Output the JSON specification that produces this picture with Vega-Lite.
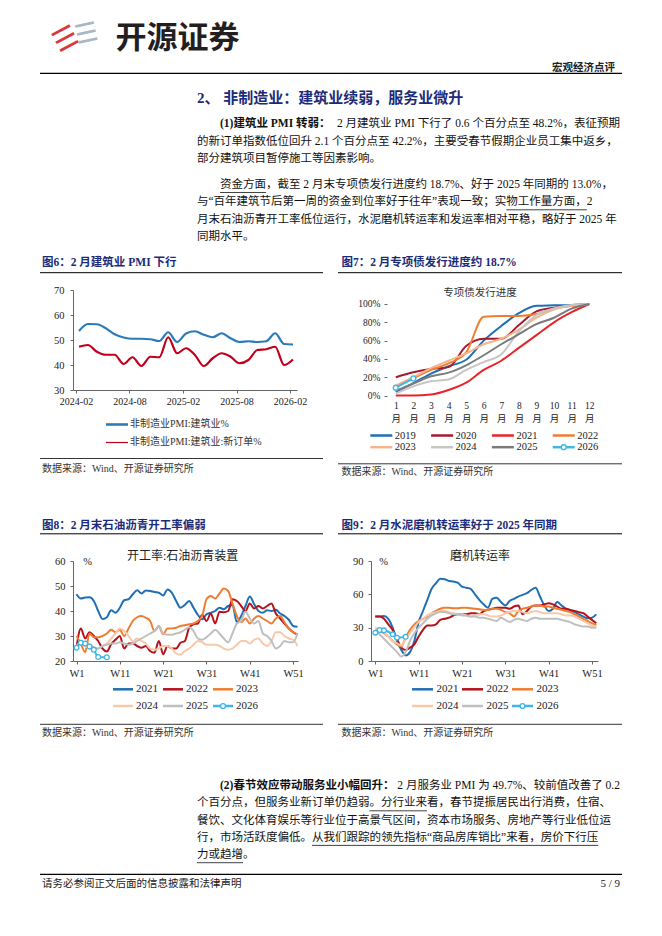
{
"$schema":"https://vega.github.io/schema/vega-lite/v6.json",
"background":"white",
"padding":0,
"columns":4,
"align":"each",
"bounds":"flush",
"spacing":0,
"resolve":{"scale":{"color":"independent"}},
"config":{"view":{"stroke":null},"axis":{"labelFlush":false,"labelOverlap":false}},
"concat":[
{"width":73,"height":1,"data":{"values":[]},"mark":"text"},
{"width":225,"height":290,"resolve":{"scale":{"x":"independent","y":"independent"}},"layer":[
 {"data":{"values":[{"t":"☰"}]},"mark":{"type":"text","font":"DejaVu Sans","fontSize":28,"angle":-28,"color":"#d8393b","align":"center","baseline":"middle"},"encoding":{"x":{"datum":0,"type":"quantitative","scale":{"domain":[7,232],"nice":false,"zero":false},"axis":null},"y":{"datum":0,"type":"quantitative","scale":{"domain":[-40,250],"reverse":true,"nice":false,"zero":false},"axis":null},"text":{"field":"t"}}},
 {"data":{"values":[{"t":"☰"}]},"mark":{"type":"text","font":"DejaVu Sans","fontSize":26,"angle":-12,"color":"#a9b6c5","align":"center","baseline":"middle"},"encoding":{"x":{"datum":0,"type":"quantitative","scale":{"domain":[-13.5,211.5],"nice":false,"zero":false},"axis":null},"y":{"datum":0,"type":"quantitative","scale":{"domain":[-34,256],"reverse":true,"nice":false,"zero":false},"axis":null},"text":{"field":"t"}}},
 {"data":{"values":[{"t":"开源证券"}]},"mark":{"type":"text","font":"Noto Sans CJK SC","fontSize":31,"fontWeight":"bold","color":"#231f20","align":"center","baseline":"middle"},"encoding":{"x":{"datum":0,"type":"quantitative","scale":{"domain":[-104.5,120.5],"nice":false,"zero":false},"axis":null},"y":{"datum":0,"type":"quantitative","scale":{"domain":[-38.5,251.5],"reverse":true,"nice":false,"zero":false},"axis":null},"text":{"field":"t"}}},
 {"data":{"values":[{"t":"宏观经济点评"}]},"mark":{"type":"text","font":"Noto Sans CJK SC","fontSize":10.5,"fontWeight":"bold","color":"#222","align":"right","baseline":"middle"},"encoding":{"x":{"datum":0,"type":"quantitative","scale":{"domain":[-542,-317],"nice":false,"zero":false},"axis":null},"y":{"datum":0,"type":"quantitative","scale":{"domain":[-68.3,221.7],"reverse":true,"nice":false,"zero":false},"axis":null},"text":{"field":"t"}}},
 {"data":{"values":[{}]},"mark":{"type":"rule","stroke":"#000","strokeWidth":1.3},"encoding":{"x":{"datum":0,"type":"quantitative","scale":{"domain":[33,258],"nice":false,"zero":false},"axis":null},"x2":{"datum":582},"y":{"datum":0,"type":"quantitative","scale":{"domain":[-73.3,216.7],"reverse":true,"nice":false,"zero":false},"axis":null}}},
 {"data":{"values":[{"t":"2、 非制造业：建筑业续弱，服务业微升"}]},"mark":{"type":"text","font":"Liberation Serif, Noto Sans CJK SC","fontSize":15,"fontWeight":"bold","color":"#1c2b78","align":"left","baseline":"middle"},"encoding":{"x":{"datum":0,"type":"quantitative","scale":{"domain":[-124,101],"nice":false,"zero":false},"axis":null},"y":{"datum":0,"type":"quantitative","scale":{"domain":[-98.3,191.7],"reverse":true,"nice":false,"zero":false},"axis":null},"text":{"field":"t"}}},
 {"encoding":{"y":{"field":"line","type":"quantitative","scale":{"domain":[-7.185,9.578],"reverse":true,"nice":false,"zero":false},"axis":null}},"layer":[
   {"data":{"values":[{"line":1,"ind":0,"t":"的新订单指数低位回升 2.1 个百分点至 42.2%，主要受春节假期企业员工集中返乡，"},{"line":2,"ind":0,"t":"部分建筑项目暂停施工等因素影响。"}]},"mark":{"type":"text","align":"left","baseline":"middle","font":"Liberation Serif, Noto Sans CJK SC","fontSize":11.5,"color":"#111"},"encoding":{"x":{"field":"ind","type":"quantitative","scale":{"domain":[-10.7826,8.7826],"nice":false,"zero":false},"axis":null},"text":{"field":"t"}}},
   {"data":{"values":[{"line":0,"ind":2,"t":"(1)建筑业 PMI 转弱："}]},"mark":{"type":"text","align":"left","baseline":"middle","font":"Liberation Serif, Noto Sans CJK SC","fontSize":11.5,"fontWeight":"bold","color":"#111"},"encoding":{"x":{"field":"ind","type":"quantitative","scale":{"domain":[-10.7826,8.7826],"nice":false,"zero":false},"axis":null},"text":{"field":"t"}}},
   {"data":{"values":[{"line":0,"t":"2 月建筑业 PMI 下行了 0.6 个百分点至 48.2%，表征预期"}]},"mark":{"type":"text","align":"right","baseline":"middle","font":"Liberation Serif, Noto Sans CJK SC","fontSize":11.5,"color":"#111"},"encoding":{"x":{"datum":36.7826,"type":"quantitative","scale":{"domain":[-10.7826,8.7826],"nice":false,"zero":false},"axis":null},"text":{"field":"t"}}}
 ]},
 {"encoding":{"y":{"field":"line","type":"quantitative","scale":{"domain":[-10.6936,6.0694],"reverse":true,"nice":false,"zero":false},"axis":null}},"layer":[
   {"data":{"values":[{"line":0,"ind":2,"t":"资金方面，截至 2 月末专项债发行进度约 18.7%、好于 2025 年同期的 13.0%，"},{"line":1,"ind":0,"t":"与“百年建筑节后第一周的资金到位率好于往年”表现一致；实物工作量方面，2"},{"line":2,"ind":0,"t":"月末石油沥青开工率低位运行，水泥磨机转运率和发运率相对平稳，略好于 2025 年"},{"line":3,"ind":0,"t":"同期水平。"}]},"mark":{"type":"text","align":"left","baseline":"middle","font":"Liberation Serif, Noto Sans CJK SC","fontSize":11.5,"color":"#111"},"encoding":{"x":{"field":"ind","type":"quantitative","scale":{"domain":[-10.7826,8.7826],"nice":false,"zero":false},"axis":null},"text":{"field":"t"}}},
   {"data":{"values":[{"line":0,"from":2,"to":6},{"line":1,"from":26.9,"to":33.9}]},"mark":{"type":"rule","stroke":"#111","strokeWidth":0.8,"yOffset":7.5},"encoding":{"x":{"field":"from","type":"quantitative","scale":{"domain":[-10.7826,8.7826],"nice":false,"zero":false},"axis":null},"x2":{"field":"to"}}}
 ]},
 {"data":{"values":[{"t":"图6：2 月建筑业 PMI 下行"}]},"mark":{"type":"text","align":"left","baseline":"middle","font":"Liberation Serif, Noto Sans CJK SC","fontSize":11.5,"fontWeight":"bold","color":"#1c2b78"},"encoding":{"x":{"datum":0,"type":"quantitative","scale":{"domain":[31,256],"nice":false,"zero":false},"axis":null},"y":{"datum":0,"type":"quantitative","scale":{"domain":[-263,27],"reverse":true,"nice":false,"zero":false},"axis":null},"text":{"field":"t"}}},
 {"data":{"values":[{}]},"mark":{"type":"rule","stroke":"#000","strokeWidth":1},"encoding":{"x":{"datum":0,"type":"quantitative","scale":{"domain":[33,258],"nice":false,"zero":false},"axis":null},"x2":{"datum":283},"y":{"datum":0,"type":"quantitative","scale":{"domain":[-272.7,17.3],"reverse":true,"nice":false,"zero":false},"axis":null}}},
 {"data":{"values":[{"t":"图7：2 月专项债发行进度约 18.7%"}]},"mark":{"type":"text","align":"left","baseline":"middle","font":"Liberation Serif, Noto Sans CJK SC","fontSize":11.5,"fontWeight":"bold","color":"#1c2b78"},"encoding":{"x":{"datum":0,"type":"quantitative","scale":{"domain":[-268.5,-43.5],"nice":false,"zero":false},"axis":null},"y":{"datum":0,"type":"quantitative","scale":{"domain":[-263,27],"reverse":true,"nice":false,"zero":false},"axis":null},"text":{"field":"t"}}},
 {"data":{"values":[{}]},"mark":{"type":"rule","stroke":"#000","strokeWidth":1},"encoding":{"x":{"datum":0,"type":"quantitative","scale":{"domain":[-265,-40],"nice":false,"zero":false},"axis":null},"x2":{"datum":284},"y":{"datum":0,"type":"quantitative","scale":{"domain":[-272.7,17.3],"reverse":true,"nice":false,"zero":false},"axis":null}}},
 {"data":{"values":[{"t":"专项债发行进度"}]},"mark":{"type":"text","align":"center","baseline":"middle","font":"Noto Sans CJK SC","fontSize":10.5,"color":"#333"},"encoding":{"x":{"datum":0,"type":"quantitative","scale":{"domain":[-407,-182],"nice":false,"zero":false},"axis":null},"y":{"datum":0,"type":"quantitative","scale":{"domain":[-293.3,-3.3],"reverse":true,"nice":false,"zero":false},"axis":null},"text":{"field":"t"}}}
]},
{"width":73,"height":1,"data":{"values":[]},"mark":"text"},
{"width":1,"height":1,"data":{"values":[]},"mark":"text"},

{"width":73,"height":1,"data":{"values":[]},"mark":"text"},
{"width":224,"height":100,
 "data":{"values":[
{"m":"2024-02","s":"非制造业PMI:建筑业%","v":53.6},{"m":"2024-03","s":"非制造业PMI:建筑业%","v":56.4},{"m":"2024-04","s":"非制造业PMI:建筑业%","v":56.3},{"m":"2024-05","s":"非制造业PMI:建筑业%","v":54.7},{"m":"2024-06","s":"非制造业PMI:建筑业%","v":52.3},{"m":"2024-07","s":"非制造业PMI:建筑业%","v":51.0},{"m":"2024-08","s":"非制造业PMI:建筑业%","v":50.5},{"m":"2024-09","s":"非制造业PMI:建筑业%","v":50.5},{"m":"2024-10","s":"非制造业PMI:建筑业%","v":50.3},{"m":"2024-11","s":"非制造业PMI:建筑业%","v":49.6},{"m":"2024-12","s":"非制造业PMI:建筑业%","v":53.1},{"m":"2025-01","s":"非制造业PMI:建筑业%","v":49.2},{"m":"2025-02","s":"非制造业PMI:建筑业%","v":52.6},{"m":"2025-03","s":"非制造业PMI:建筑业%","v":53.5},{"m":"2025-04","s":"非制造业PMI:建筑业%","v":52.1},{"m":"2025-05","s":"非制造业PMI:建筑业%","v":51.1},{"m":"2025-06","s":"非制造业PMI:建筑业%","v":52.7},{"m":"2025-07","s":"非制造业PMI:建筑业%","v":50.7},{"m":"2025-08","s":"非制造业PMI:建筑业%","v":49.2},{"m":"2025-09","s":"非制造业PMI:建筑业%","v":49.5},{"m":"2025-10","s":"非制造业PMI:建筑业%","v":49.2},{"m":"2025-11","s":"非制造业PMI:建筑业%","v":49.5},{"m":"2025-12","s":"非制造业PMI:建筑业%","v":52.7},{"m":"2026-01","s":"非制造业PMI:建筑业%","v":48.4},{"m":"2026-02","s":"非制造业PMI:建筑业%","v":48.2},
{"m":"2024-02","s":"非制造业PMI:建筑业:新订单%","v":47.3},{"m":"2024-03","s":"非制造业PMI:建筑业:新订单%","v":48.0},{"m":"2024-04","s":"非制造业PMI:建筑业:新订单%","v":45.3},{"m":"2024-05","s":"非制造业PMI:建筑业:新订单%","v":44.1},{"m":"2024-06","s":"非制造业PMI:建筑业:新订单%","v":44.1},{"m":"2024-07","s":"非制造业PMI:建筑业:新订单%","v":40.4},{"m":"2024-08","s":"非制造业PMI:建筑业:新订单%","v":43.1},{"m":"2024-09","s":"非制造业PMI:建筑业:新订单%","v":39.6},{"m":"2024-10","s":"非制造业PMI:建筑业:新订单%","v":43.3},{"m":"2024-11","s":"非制造业PMI:建筑业:新订单%","v":43.1},{"m":"2024-12","s":"非制造业PMI:建筑业:新订单%","v":51.1},{"m":"2025-01","s":"非制造业PMI:建筑业:新订单%","v":44.7},{"m":"2025-02","s":"非制造业PMI:建筑业:新订单%","v":46.7},{"m":"2025-03","s":"非制造业PMI:建筑业:新订单%","v":44.0},{"m":"2025-04","s":"非制造业PMI:建筑业:新订单%","v":39.6},{"m":"2025-05","s":"非制造业PMI:建筑业:新订单%","v":42.7},{"m":"2025-06","s":"非制造业PMI:建筑业:新订单%","v":44.7},{"m":"2025-07","s":"非制造业PMI:建筑业:新订单%","v":43.3},{"m":"2025-08","s":"非制造业PMI:建筑业:新订单%","v":40.7},{"m":"2025-09","s":"非制造业PMI:建筑业:新订单%","v":42.0},{"m":"2025-10","s":"非制造业PMI:建筑业:新订单%","v":46.0},{"m":"2025-11","s":"非制造业PMI:建筑业:新订单%","v":46.3},{"m":"2025-12","s":"非制造业PMI:建筑业:新订单%","v":47.3},{"m":"2026-01","s":"非制造业PMI:建筑业:新订单%","v":40.0},{"m":"2026-02","s":"非制造业PMI:建筑业:新订单%","v":42.2}
 ]},
 "mark":{"type":"line","interpolate":"monotone","strokeWidth":2.2},
 "encoding":{
  "x":{"field":"m","type":"ordinal","scale":{"type":"point","padding":0.5607,"align":0.6},"axis":{"values":["2024-02","2024-08","2025-02","2025-08","2026-02"],"title":null,"labelAngle":0,"labelFont":"Liberation Serif","labelFontSize":10,"labelColor":"#222","domainColor":"#666","tickColor":"#666","tickSize":3,"tickOffset":-3,"labelPadding":3}},
  "y":{"field":"v","type":"quantitative","scale":{"domain":[30,70],"nice":false,"zero":false},"axis":{"values":[30,40,50,60,70],"title":null,"grid":false,"labelFont":"Liberation Serif","labelFontSize":10.5,"labelColor":"#222","domainColor":"#666","tickColor":"#666","tickSize":3,"labelPadding":6}},
  "color":{"field":"s","type":"nominal","scale":{"domain":["非制造业PMI:建筑业%","非制造业PMI:建筑业:新订单%"],"range":["#2b7bba","#c0001c"]},"legend":null}
 }
},
{"width":73,"height":1,"data":{"values":[]},"mark":"text"},
{"width":227,"height":105.5,
 "data":{"values":[
{"yr":"2019","m":1,"v":0.04},{"yr":"2019","m":2,"v":0.135},{"yr":"2019","m":3,"v":0.24},{"yr":"2019","m":4,"v":0.32},{"yr":"2019","m":5,"v":0.39},{"yr":"2019","m":6,"v":0.6},{"yr":"2019","m":7,"v":0.76},{"yr":"2019","m":8,"v":0.9},{"yr":"2019","m":9,"v":0.98},{"yr":"2019","m":10,"v":0.985},{"yr":"2019","m":11,"v":0.99},{"yr":"2019","m":12,"v":1.0},
{"yr":"2020","m":1,"v":0.2},{"yr":"2020","m":2,"v":0.255},{"yr":"2020","m":3,"v":0.29},{"yr":"2020","m":4,"v":0.31},{"yr":"2020","m":5,"v":0.54},{"yr":"2020","m":6,"v":0.62},{"yr":"2020","m":7,"v":0.62},{"yr":"2020","m":8,"v":0.77},{"yr":"2020","m":9,"v":0.92},{"yr":"2020","m":10,"v":0.96},{"yr":"2020","m":11,"v":0.98},{"yr":"2020","m":12,"v":1.0},
{"yr":"2021","m":1,"v":0.0},{"yr":"2021","m":2,"v":0.0},{"yr":"2021","m":3,"v":0.01},{"yr":"2021","m":4,"v":0.06},{"yr":"2021","m":5,"v":0.14},{"yr":"2021","m":6,"v":0.28},{"yr":"2021","m":7,"v":0.38},{"yr":"2021","m":8,"v":0.52},{"yr":"2021","m":9,"v":0.66},{"yr":"2021","m":10,"v":0.8},{"yr":"2021","m":11,"v":0.91},{"yr":"2021","m":12,"v":1.0},
{"yr":"2022","m":1,"v":0.1},{"yr":"2022","m":2,"v":0.19},{"yr":"2022","m":3,"v":0.28},{"yr":"2022","m":4,"v":0.35},{"yr":"2022","m":5,"v":0.47},{"yr":"2022","m":6,"v":0.86},{"yr":"2022","m":7,"v":0.87},{"yr":"2022","m":8,"v":0.87},{"yr":"2022","m":9,"v":0.89},{"yr":"2022","m":10,"v":0.95},{"yr":"2022","m":11,"v":0.98},{"yr":"2022","m":12,"v":1.0},
{"yr":"2023","m":1,"v":0.11},{"yr":"2023","m":2,"v":0.2},{"yr":"2023","m":3,"v":0.3},{"yr":"2023","m":4,"v":0.38},{"yr":"2023","m":5,"v":0.46},{"yr":"2023","m":6,"v":0.56},{"yr":"2023","m":7,"v":0.62},{"yr":"2023","m":8,"v":0.72},{"yr":"2023","m":9,"v":0.85},{"yr":"2023","m":10,"v":0.94},{"yr":"2023","m":11,"v":0.98},{"yr":"2023","m":12,"v":1.0},
{"yr":"2024","m":1,"v":0.02},{"yr":"2024","m":2,"v":0.1},{"yr":"2024","m":3,"v":0.155},{"yr":"2024","m":4,"v":0.175},{"yr":"2024","m":5,"v":0.28},{"yr":"2024","m":6,"v":0.365},{"yr":"2024","m":7,"v":0.45},{"yr":"2024","m":8,"v":0.7},{"yr":"2024","m":9,"v":0.88},{"yr":"2024","m":10,"v":0.95},{"yr":"2024","m":11,"v":0.99},{"yr":"2024","m":12,"v":1.0},
{"yr":"2025","m":1,"v":0.05},{"yr":"2025","m":2,"v":0.13},{"yr":"2025","m":3,"v":0.21},{"yr":"2025","m":4,"v":0.25},{"yr":"2025","m":5,"v":0.33},{"yr":"2025","m":6,"v":0.44},{"yr":"2025","m":7,"v":0.56},{"yr":"2025","m":8,"v":0.67},{"yr":"2025","m":9,"v":0.78},{"yr":"2025","m":10,"v":0.85},{"yr":"2025","m":11,"v":0.95},{"yr":"2025","m":12,"v":1.0},
{"yr":"2026","m":1,"v":0.085},{"yr":"2026","m":2,"v":0.187}
 ]},
 "encoding":{
  "x":{"field":"m","type":"quantitative","scale":{"domain":[-0.41,12.5],"nice":false,"zero":false},"axis":{"values":[1,2,3,4,5,6,7,8,9,10,11,12],"domain":false,"ticks":false,"grid":false,"title":null,"labelExpr":"[datum.label, '月']","labelFont":"Liberation Serif, Noto Sans CJK SC","labelFontSize":9.5,"labelLineHeight":12.5,"labelBaseline":"top","labelColor":"#222","labelPadding":5}},
  "y":{"field":"v","type":"quantitative","scale":{"domain":[0,1.153],"nice":false,"zero":false},"axis":{"values":[0,0.2,0.4,0.6,0.8,1],"format":".0%","domain":false,"offset":-16,"title":null,"grid":false,"labelFont":"Liberation Serif","labelFontSize":9.5,"labelColor":"#222","tickColor":"#666","tickSize":3,"labelPadding":4}}
 },
 "layer":[
  {"mark":{"type":"line","interpolate":"monotone","strokeWidth":2},
   "encoding":{"color":{"field":"yr","type":"nominal","scale":{"domain":["2019","2020","2021","2022","2023","2024","2025","2026"],"range":["#1f6fb5","#a8192e","#e8242a","#ee7d32","#f6b48a","#c6c6c6","#7b7b7b","#3fb6e6"]},"legend":null}}},
  {"transform":[{"filter":"datum.yr == '2026'"}],"mark":{"type":"point","filled":true,"fill":"white","stroke":"#3fb6e6","strokeWidth":1.3,"size":24,"opacity":1}},
  {"data":{"values":[{}]},"mark":{"type":"rule","stroke":"#666","strokeWidth":1},"encoding":{
    "x":{"datum":0.5,"type":"quantitative","scale":{"domain":[-0.41,12.5],"nice":false,"zero":false},"axis":{"values":[1,2,3,4,5,6,7,8,9,10,11,12],"domain":false,"ticks":false,"grid":false,"title":null,"labelExpr":"[datum.label, '月']","labelFont":"Liberation Serif, Noto Sans CJK SC","labelFontSize":9.5,"labelLineHeight":12.5,"labelBaseline":"top","labelColor":"#222","labelPadding":5}},
    "y":{"datum":0,"type":"quantitative","scale":{"domain":[0,1.153],"nice":false,"zero":false},"axis":{"values":[0,0.2,0.4,0.6,0.8,1],"format":".0%","domain":false,"offset":-16,"title":null,"grid":false,"labelFont":"Liberation Serif","labelFontSize":9.5,"labelColor":"#222","tickColor":"#666","tickSize":3,"labelPadding":4}},
    "y2":{"datum":1}}},
  {"data":{"values":[{}]},"mark":{"type":"rule","stroke":"#666","strokeWidth":1},"encoding":{
    "x":{"datum":0.5,"type":"quantitative","scale":{"domain":[-0.41,12.5],"nice":false,"zero":false},"axis":{"values":[1,2,3,4,5,6,7,8,9,10,11,12],"domain":false,"ticks":false,"grid":false,"title":null,"labelExpr":"[datum.label, '月']","labelFont":"Liberation Serif, Noto Sans CJK SC","labelFontSize":9.5,"labelLineHeight":12.5,"labelBaseline":"top","labelColor":"#222","labelPadding":5}},
    "x2":{"datum":12.5},
    "y":{"datum":0,"type":"quantitative","scale":{"domain":[0,1.153],"nice":false,"zero":false},"axis":{"values":[0,0.2,0.4,0.6,0.8,1],"format":".0%","domain":false,"offset":-16,"title":null,"grid":false,"labelFont":"Liberation Serif","labelFontSize":9.5,"labelColor":"#222","tickColor":"#666","tickSize":3,"labelPadding":4}}}}
 ]
},

{"width":73,"height":1,"data":{"values":[]},"mark":"text"},
{"width":225,"height":164.5,"resolve":{"scale":{"x":"independent","y":"independent"}},"layer":[
 {"data":{"values":[{"r":0,"s":"非制造业PMI:建筑业%"},{"r":1,"s":"非制造业PMI:建筑业:新订单%"}]},
  "encoding":{"x":{"datum":0,"type":"quantitative","scale":{"domain":[-44,181],"nice":false,"zero":false},"axis":null},"y":{"field":"r","type":"quantitative","scale":{"domain":[-1.5833,7.5556],"reverse":true,"nice":false,"zero":false},"axis":null}},
  "layer":[
   {"transform":[{"filter":"datum.r == 0"}],"mark":{"type":"tick","orient":"horizontal","size":22,"thickness":2.6,"color":"#2b7bba","opacity":1}},
   {"transform":[{"filter":"datum.r == 1"}],"mark":{"type":"tick","orient":"horizontal","size":22,"thickness":1.2,"color":"#c0001c","opacity":1}},
   {"mark":{"type":"text","align":"left","baseline":"middle","dx":13,"font":"Liberation Serif, Noto Sans CJK SC","fontSize":10,"color":"#333"},"encoding":{"text":{"field":"s"}}}
  ]},
 {"data":{"values":[{}]},"mark":{"type":"rule","stroke":"#000","strokeWidth":0.8},"encoding":{"x":{"datum":0,"type":"quantitative","scale":{"domain":[33,258],"nice":false,"zero":false},"axis":null},"x2":{"datum":283},"y":{"datum":0,"type":"quantitative","scale":{"domain":[-62.5,102],"reverse":true,"nice":false,"zero":false},"axis":null}}},
 {"data":{"values":[{"t":"数据来源：Wind、开源证券研究所"}]},"mark":{"type":"text","align":"left","baseline":"middle","font":"Liberation Serif, Noto Sans CJK SC","fontSize":10,"color":"#333"},"encoding":{"x":{"datum":0,"type":"quantitative","scale":{"domain":[31,256],"nice":false,"zero":false},"axis":null},"y":{"datum":0,"type":"quantitative","scale":{"domain":[-72.5,92],"reverse":true,"nice":false,"zero":false},"axis":null},"text":{"field":"t"}}},
 {"data":{"values":[{"s":"2019","c":0,"r":0},{"s":"2020","c":1,"r":0},{"s":"2021","c":2,"r":0},{"s":"2022","c":3,"r":0},{"s":"2023","c":0,"r":1},{"s":"2024","c":1,"r":1},{"s":"2025","c":2,"r":1},{"s":"2026","c":3,"r":1}]},
  "encoding":{"x":{"field":"c","type":"quantitative","scale":{"domain":[-5.0707,-1.3701],"nice":false,"zero":false},"axis":null},"y":{"field":"r","type":"quantitative","scale":{"domain":[-3.3761,10.6838],"reverse":true,"nice":false,"zero":false},"axis":null}},
  "layer":[
   {"mark":{"type":"tick","orient":"horizontal","size":22,"thickness":2.5,"opacity":1},"encoding":{"color":{"field":"s","type":"nominal","scale":{"domain":["2019","2020","2021","2022","2023","2024","2025","2026"],"range":["#1f6fb5","#a8192e","#e8242a","#ee7d32","#f6b48a","#c6c6c6","#7b7b7b","#3fb6e6"]},"legend":null}}},
   {"transform":[{"filter":"datum.s == '2026'"}],"mark":{"type":"point","filled":true,"fill":"white","stroke":"#3fb6e6","strokeWidth":1.3,"size":24,"opacity":1}},
   {"mark":{"type":"text","align":"left","baseline":"middle","dx":13.5,"font":"Liberation Serif","fontSize":10.5,"color":"#222"},"encoding":{"text":{"field":"s"}}}
  ]},
 {"data":{"values":[{}]},"mark":{"type":"rule","stroke":"#000","strokeWidth":0.8},"encoding":{"x":{"datum":0,"type":"quantitative","scale":{"domain":[-265,-40],"nice":false,"zero":false},"axis":null},"x2":{"datum":284},"y":{"datum":0,"type":"quantitative","scale":{"domain":[-67.8,96.7],"reverse":true,"nice":false,"zero":false},"axis":null}}},
 {"data":{"values":[{"t":"数据来源：Wind、开源证券研究所"}]},"mark":{"type":"text","align":"left","baseline":"middle","font":"Liberation Serif, Noto Sans CJK SC","fontSize":10,"color":"#333"},"encoding":{"x":{"datum":0,"type":"quantitative","scale":{"domain":[-268.5,-43.5],"nice":false,"zero":false},"axis":null},"y":{"datum":0,"type":"quantitative","scale":{"domain":[-76,88.5],"reverse":true,"nice":false,"zero":false},"axis":null},"text":{"field":"t"}}},
 {"data":{"values":[{"t":"图8：2 月末石油沥青开工率偏弱"}]},"mark":{"type":"text","align":"left","baseline":"middle","font":"Liberation Serif, Noto Sans CJK SC","fontSize":11.5,"fontWeight":"bold","color":"#1c2b78"},"encoding":{"x":{"datum":0,"type":"quantitative","scale":{"domain":[31,256],"nice":false,"zero":false},"axis":null},"y":{"datum":0,"type":"quantitative","scale":{"domain":[-129.5,35],"reverse":true,"nice":false,"zero":false},"axis":null},"text":{"field":"t"}}},
 {"data":{"values":[{}]},"mark":{"type":"rule","stroke":"#000","strokeWidth":1},"encoding":{"x":{"datum":0,"type":"quantitative","scale":{"domain":[33,258],"nice":false,"zero":false},"axis":null},"x2":{"datum":283},"y":{"datum":0,"type":"quantitative","scale":{"domain":[-137.8,26.7],"reverse":true,"nice":false,"zero":false},"axis":null}}},
 {"data":{"values":[{"t":"开工率:石油沥青装置"}]},"mark":{"type":"text","align":"center","baseline":"middle","font":"Liberation Serif, Noto Sans CJK SC","fontSize":12,"color":"#222"},"encoding":{"x":{"datum":0,"type":"quantitative","scale":{"domain":[-109.7,115.3],"nice":false,"zero":false},"axis":null},"y":{"datum":0,"type":"quantitative","scale":{"domain":[-160.2,4.3],"reverse":true,"nice":false,"zero":false},"axis":null},"text":{"field":"t"}}},
 {"data":{"values":[{"t":"图9：2 月水泥磨机转运率好于 2025 年同期"}]},"mark":{"type":"text","align":"left","baseline":"middle","font":"Liberation Serif, Noto Sans CJK SC","fontSize":11.5,"fontWeight":"bold","color":"#1c2b78"},"encoding":{"x":{"datum":0,"type":"quantitative","scale":{"domain":[-268.5,-43.5],"nice":false,"zero":false},"axis":null},"y":{"datum":0,"type":"quantitative","scale":{"domain":[-129.5,35],"reverse":true,"nice":false,"zero":false},"axis":null},"text":{"field":"t"}}},
 {"data":{"values":[{}]},"mark":{"type":"rule","stroke":"#000","strokeWidth":1},"encoding":{"x":{"datum":0,"type":"quantitative","scale":{"domain":[-265,-40],"nice":false,"zero":false},"axis":null},"x2":{"datum":284},"y":{"datum":0,"type":"quantitative","scale":{"domain":[-137.8,26.7],"reverse":true,"nice":false,"zero":false},"axis":null}}},
 {"data":{"values":[{"t":"磨机转运率"}]},"mark":{"type":"text","align":"center","baseline":"middle","font":"Liberation Serif, Noto Sans CJK SC","fontSize":12,"color":"#222"},"encoding":{"x":{"datum":0,"type":"quantitative","scale":{"domain":[-407,-182],"nice":false,"zero":false},"axis":null},"y":{"datum":0,"type":"quantitative","scale":{"domain":[-159.5,5],"reverse":true,"nice":false,"zero":false},"axis":null},"text":{"field":"t"}}}
]},
{"width":73,"height":1,"data":{"values":[]},"mark":"text"},
{"width":1,"height":1,"data":{"values":[]},"mark":"text"},

{"width":73,"height":1,"data":{"values":[]},"mark":"text"},
{"width":225,"height":100,
 "data":{"values":[
{"yr":"2021","w":1,"v":46.7},{"yr":"2021","w":2,"v":45.0},{"yr":"2021","w":3,"v":45.4},{"yr":"2021","w":4,"v":45.5},{"yr":"2021","w":5,"v":44.0},{"yr":"2021","w":6,"v":40.0},{"yr":"2021","w":7,"v":36.8},{"yr":"2021","w":8,"v":37.5},{"yr":"2021","w":9,"v":40.3},{"yr":"2021","w":10,"v":39.3},{"yr":"2021","w":11,"v":41.3},{"yr":"2021","w":12,"v":44.3},{"yr":"2021","w":13,"v":44.7},{"yr":"2021","w":14,"v":46.7},{"yr":"2021","w":15,"v":48.3},{"yr":"2021","w":16,"v":47.0},{"yr":"2021","w":17,"v":48.2},{"yr":"2021","w":18,"v":48.0},{"yr":"2021","w":19,"v":47.6},{"yr":"2021","w":20,"v":47.3},{"yr":"2021","w":21,"v":46.2},{"yr":"2021","w":22,"v":48.6},{"yr":"2021","w":23,"v":47.3},{"yr":"2021","w":24,"v":44.0},{"yr":"2021","w":25,"v":41.3},{"yr":"2021","w":26,"v":42.4},{"yr":"2021","w":27,"v":44.0},{"yr":"2021","w":28,"v":41.3},{"yr":"2021","w":29,"v":38.5},{"yr":"2021","w":30,"v":36.7},{"yr":"2021","w":31,"v":38.7},{"yr":"2021","w":32,"v":39.3},{"yr":"2021","w":33,"v":40.0},{"yr":"2021","w":34,"v":41.3},{"yr":"2021","w":35,"v":40.7},{"yr":"2021","w":36,"v":42.0},{"yr":"2021","w":37,"v":42.4},{"yr":"2021","w":38,"v":35.5},{"yr":"2021","w":39,"v":38.0},{"yr":"2021","w":40,"v":42.0},{"yr":"2021","w":41,"v":45.8},{"yr":"2021","w":42,"v":42.7},{"yr":"2021","w":43,"v":40.0},{"yr":"2021","w":44,"v":39.3},{"yr":"2021","w":45,"v":40.3},{"yr":"2021","w":46,"v":40.0},{"yr":"2021","w":47,"v":40.5},{"yr":"2021","w":48,"v":39.0},{"yr":"2021","w":49,"v":38.0},{"yr":"2021","w":50,"v":36.5},{"yr":"2021","w":51,"v":34.0},{"yr":"2021","w":52,"v":33.7},
{"yr":"2022","w":1,"v":25.5},{"yr":"2022","w":2,"v":33.0},{"yr":"2022","w":3,"v":29.0},{"yr":"2022","w":4,"v":31.5},{"yr":"2022","w":5,"v":30.0},{"yr":"2022","w":6,"v":28.0},{"yr":"2022","w":7,"v":25.0},{"yr":"2022","w":8,"v":23.8},{"yr":"2022","w":9,"v":26.7},{"yr":"2022","w":10,"v":28.5},{"yr":"2022","w":11,"v":30.0},{"yr":"2022","w":12,"v":25.0},{"yr":"2022","w":13,"v":27.0},{"yr":"2022","w":14,"v":27.0},{"yr":"2022","w":15,"v":26.0},{"yr":"2022","w":16,"v":25.3},{"yr":"2022","w":17,"v":26.0},{"yr":"2022","w":18,"v":24.0},{"yr":"2022","w":19,"v":23.3},{"yr":"2022","w":20,"v":28.0},{"yr":"2022","w":21,"v":22.7},{"yr":"2022","w":22,"v":26.0},{"yr":"2022","w":23,"v":25.0},{"yr":"2022","w":24,"v":25.0},{"yr":"2022","w":25,"v":27.3},{"yr":"2022","w":26,"v":28.0},{"yr":"2022","w":27,"v":33.3},{"yr":"2022","w":28,"v":34.7},{"yr":"2022","w":29,"v":35.0},{"yr":"2022","w":30,"v":38.5},{"yr":"2022","w":31,"v":36.0},{"yr":"2022","w":32,"v":39.0},{"yr":"2022","w":33,"v":35.0},{"yr":"2022","w":34,"v":39.7},{"yr":"2022","w":35,"v":39.5},{"yr":"2022","w":36,"v":40.0},{"yr":"2022","w":37,"v":44.7},{"yr":"2022","w":38,"v":44.0},{"yr":"2022","w":39,"v":42.0},{"yr":"2022","w":40,"v":40.0},{"yr":"2022","w":41,"v":43.0},{"yr":"2022","w":42,"v":41.0},{"yr":"2022","w":43,"v":42.0},{"yr":"2022","w":44,"v":41.0},{"yr":"2022","w":45,"v":42.0},{"yr":"2022","w":46,"v":43.0},{"yr":"2022","w":47,"v":39.0},{"yr":"2022","w":48,"v":37.0},{"yr":"2022","w":49,"v":35.0},{"yr":"2022","w":50,"v":33.0},{"yr":"2022","w":51,"v":31.5},{"yr":"2022","w":52,"v":30.5},
{"yr":"2023","w":1,"v":30.0},{"yr":"2023","w":2,"v":27.0},{"yr":"2023","w":3,"v":23.5},{"yr":"2023","w":4,"v":31.0},{"yr":"2023","w":5,"v":29.5},{"yr":"2023","w":6,"v":29.5},{"yr":"2023","w":7,"v":30.0},{"yr":"2023","w":8,"v":31.0},{"yr":"2023","w":9,"v":32.5},{"yr":"2023","w":10,"v":31.5},{"yr":"2023","w":11,"v":32.5},{"yr":"2023","w":12,"v":30.0},{"yr":"2023","w":13,"v":33.0},{"yr":"2023","w":14,"v":36.0},{"yr":"2023","w":15,"v":37.5},{"yr":"2023","w":16,"v":38.0},{"yr":"2023","w":17,"v":37.3},{"yr":"2023","w":18,"v":36.0},{"yr":"2023","w":19,"v":32.0},{"yr":"2023","w":20,"v":34.0},{"yr":"2023","w":21,"v":30.7},{"yr":"2023","w":22,"v":33.0},{"yr":"2023","w":23,"v":33.0},{"yr":"2023","w":24,"v":33.3},{"yr":"2023","w":25,"v":34.0},{"yr":"2023","w":26,"v":34.3},{"yr":"2023","w":27,"v":34.7},{"yr":"2023","w":28,"v":35.0},{"yr":"2023","w":29,"v":36.0},{"yr":"2023","w":30,"v":38.0},{"yr":"2023","w":31,"v":44.7},{"yr":"2023","w":32,"v":46.0},{"yr":"2023","w":33,"v":45.0},{"yr":"2023","w":34,"v":47.0},{"yr":"2023","w":35,"v":49.0},{"yr":"2023","w":36,"v":48.0},{"yr":"2023","w":37,"v":43.0},{"yr":"2023","w":38,"v":38.0},{"yr":"2023","w":39,"v":35.5},{"yr":"2023","w":40,"v":37.0},{"yr":"2023","w":41,"v":35.0},{"yr":"2023","w":42,"v":37.0},{"yr":"2023","w":43,"v":38.0},{"yr":"2023","w":44,"v":37.0},{"yr":"2023","w":45,"v":36.0},{"yr":"2023","w":46,"v":35.0},{"yr":"2023","w":47,"v":37.0},{"yr":"2023","w":48,"v":38.0},{"yr":"2023","w":49,"v":35.5},{"yr":"2023","w":50,"v":33.0},{"yr":"2023","w":51,"v":31.5},{"yr":"2023","w":52,"v":30.5},
{"yr":"2024","w":1,"v":26.0},{"yr":"2024","w":2,"v":27.5},{"yr":"2024","w":3,"v":26.0},{"yr":"2024","w":4,"v":25.0},{"yr":"2024","w":5,"v":24.0},{"yr":"2024","w":6,"v":25.0},{"yr":"2024","w":7,"v":26.0},{"yr":"2024","w":8,"v":27.0},{"yr":"2024","w":9,"v":29.0},{"yr":"2024","w":10,"v":31.0},{"yr":"2024","w":11,"v":33.0},{"yr":"2024","w":12,"v":32.0},{"yr":"2024","w":13,"v":30.0},{"yr":"2024","w":14,"v":28.0},{"yr":"2024","w":15,"v":29.0},{"yr":"2024","w":16,"v":28.0},{"yr":"2024","w":17,"v":27.0},{"yr":"2024","w":18,"v":25.0},{"yr":"2024","w":19,"v":24.5},{"yr":"2024","w":20,"v":25.0},{"yr":"2024","w":21,"v":26.0},{"yr":"2024","w":22,"v":26.0},{"yr":"2024","w":23,"v":25.0},{"yr":"2024","w":24,"v":23.0},{"yr":"2024","w":25,"v":22.5},{"yr":"2024","w":26,"v":24.0},{"yr":"2024","w":27,"v":25.0},{"yr":"2024","w":28,"v":26.5},{"yr":"2024","w":29,"v":28.0},{"yr":"2024","w":30,"v":27.5},{"yr":"2024","w":31,"v":26.5},{"yr":"2024","w":32,"v":26.5},{"yr":"2024","w":33,"v":26.5},{"yr":"2024","w":34,"v":26.0},{"yr":"2024","w":35,"v":25.0},{"yr":"2024","w":36,"v":24.5},{"yr":"2024","w":37,"v":25.0},{"yr":"2024","w":38,"v":26.5},{"yr":"2024","w":39,"v":28.0},{"yr":"2024","w":40,"v":28.0},{"yr":"2024","w":41,"v":27.0},{"yr":"2024","w":42,"v":28.5},{"yr":"2024","w":43,"v":29.0},{"yr":"2024","w":44,"v":27.0},{"yr":"2024","w":45,"v":26.0},{"yr":"2024","w":46,"v":28.0},{"yr":"2024","w":47,"v":31.5},{"yr":"2024","w":48,"v":31.5},{"yr":"2024","w":49,"v":30.0},{"yr":"2024","w":50,"v":29.0},{"yr":"2024","w":51,"v":28.5},{"yr":"2024","w":52,"v":26.0},
{"yr":"2025","w":1,"v":26.0},{"yr":"2025","w":2,"v":27.0},{"yr":"2025","w":3,"v":27.5},{"yr":"2025","w":4,"v":26.5},{"yr":"2025","w":5,"v":25.5},{"yr":"2025","w":6,"v":25.0},{"yr":"2025","w":7,"v":26.0},{"yr":"2025","w":8,"v":26.5},{"yr":"2025","w":9,"v":27.0},{"yr":"2025","w":10,"v":27.0},{"yr":"2025","w":11,"v":27.5},{"yr":"2025","w":12,"v":27.0},{"yr":"2025","w":13,"v":26.5},{"yr":"2025","w":14,"v":27.0},{"yr":"2025","w":15,"v":28.0},{"yr":"2025","w":16,"v":29.0},{"yr":"2025","w":17,"v":30.0},{"yr":"2025","w":18,"v":31.0},{"yr":"2025","w":19,"v":32.0},{"yr":"2025","w":20,"v":34.0},{"yr":"2025","w":21,"v":31.0},{"yr":"2025","w":22,"v":30.5},{"yr":"2025","w":23,"v":30.5},{"yr":"2025","w":24,"v":31.0},{"yr":"2025","w":25,"v":31.5},{"yr":"2025","w":26,"v":32.5},{"yr":"2025","w":27,"v":33.5},{"yr":"2025","w":28,"v":32.0},{"yr":"2025","w":29,"v":29.0},{"yr":"2025","w":30,"v":28.5},{"yr":"2025","w":31,"v":29.5},{"yr":"2025","w":32,"v":31.0},{"yr":"2025","w":33,"v":32.5},{"yr":"2025","w":34,"v":31.0},{"yr":"2025","w":35,"v":29.0},{"yr":"2025","w":36,"v":27.5},{"yr":"2025","w":37,"v":31.0},{"yr":"2025","w":38,"v":35.0},{"yr":"2025","w":39,"v":36.0},{"yr":"2025","w":40,"v":39.7},{"yr":"2025","w":41,"v":37.0},{"yr":"2025","w":42,"v":35.0},{"yr":"2025","w":43,"v":36.0},{"yr":"2025","w":44,"v":31.0},{"yr":"2025","w":45,"v":30.0},{"yr":"2025","w":46,"v":28.0},{"yr":"2025","w":47,"v":25.0},{"yr":"2025","w":48,"v":26.0},{"yr":"2025","w":49,"v":28.0},{"yr":"2025","w":50,"v":27.5},{"yr":"2025","w":51,"v":27.5},{"yr":"2025","w":52,"v":31.0},
{"yr":"2026","w":1,"v":25.3},{"yr":"2026","w":2,"v":27.3},{"yr":"2026","w":3,"v":27.0},{"yr":"2026","w":4,"v":25.8},{"yr":"2026","w":5,"v":24.5},{"yr":"2026","w":6,"v":21.6},{"yr":"2026","w":8,"v":21.5}
 ]},
 "encoding":{
  "x":{"field":"w","type":"quantitative","scale":{"domain":[0.19,52.12],"nice":false,"zero":false},"axis":{"values":[1,11,21,31,41,51],"labelExpr":"'W' + datum.value","title":null,"grid":false,"tickSize":3,"labelPadding":4,"labelFont":"Liberation Serif","labelFontSize":10.5,"labelColor":"#222","domainColor":"#666","tickColor":"#666"}},
  "y":{"field":"v","type":"quantitative","scale":{"domain":[20,60],"nice":false,"zero":false},"axis":{"values":[20,30,40,50,60],"title":"%","titleAngle":0,"titleX":14,"titleY":0,"titleAlign":"center","titleBaseline":"middle","titleFont":"Liberation Serif","titleFontSize":10.5,"titleFontWeight":"normal","titleColor":"#222","grid":false,"tickSize":3,"labelPadding":5,"labelFont":"Liberation Serif","labelFontSize":10.5,"labelColor":"#222","domainColor":"#666","tickColor":"#666"}}
 },
 "layer":[
  {"mark":{"type":"line","interpolate":"monotone","strokeWidth":2},
   "encoding":{"color":{"field":"yr","type":"nominal","scale":{"domain":["2021","2022","2023","2024","2025","2026"],"range":["#1f6fb5","#b5121b","#ee7d32","#f8c9a9","#bfbfbf","#3fb6e6"]},"legend":null}}},
  {"transform":[{"filter":"datum.yr == '2026'"}],"mark":{"type":"point","filled":true,"fill":"white","stroke":"#3fb6e6","strokeWidth":1.3,"size":22,"opacity":1}}
 ]
},
{"width":73,"height":1,"data":{"values":[]},"mark":"text"},
{"width":227,"height":100,
 "data":{"values":[
{"yr":"2021","w":1,"v":40},{"yr":"2021","w":2,"v":40},{"yr":"2021","w":3,"v":40.5},{"yr":"2021","w":4,"v":38},{"yr":"2021","w":5,"v":30},{"yr":"2021","w":6,"v":18},{"yr":"2021","w":7,"v":10},{"yr":"2021","w":8,"v":5},{"yr":"2021","w":9,"v":8},{"yr":"2021","w":10,"v":18},{"yr":"2021","w":11,"v":35},{"yr":"2021","w":12,"v":45},{"yr":"2021","w":13,"v":55},{"yr":"2021","w":14,"v":65},{"yr":"2021","w":15,"v":70},{"yr":"2021","w":16,"v":74},{"yr":"2021","w":17,"v":73.5},{"yr":"2021","w":18,"v":72},{"yr":"2021","w":19,"v":71.5},{"yr":"2021","w":20,"v":70.5},{"yr":"2021","w":21,"v":67},{"yr":"2021","w":22,"v":66},{"yr":"2021","w":23,"v":65},{"yr":"2021","w":24,"v":60},{"yr":"2021","w":25,"v":55},{"yr":"2021","w":26,"v":51},{"yr":"2021","w":27,"v":48},{"yr":"2021","w":28,"v":56},{"yr":"2021","w":29,"v":57},{"yr":"2021","w":30,"v":53},{"yr":"2021","w":31,"v":50},{"yr":"2021","w":32,"v":54},{"yr":"2021","w":33,"v":56},{"yr":"2021","w":34,"v":58},{"yr":"2021","w":35,"v":59.5},{"yr":"2021","w":36,"v":61},{"yr":"2021","w":37,"v":64},{"yr":"2021","w":38,"v":66},{"yr":"2021","w":39,"v":58},{"yr":"2021","w":40,"v":50},{"yr":"2021","w":41,"v":45},{"yr":"2021","w":42,"v":47},{"yr":"2021","w":43,"v":53},{"yr":"2021","w":44,"v":50},{"yr":"2021","w":45,"v":47},{"yr":"2021","w":46,"v":45.5},{"yr":"2021","w":47,"v":44},{"yr":"2021","w":48,"v":42},{"yr":"2021","w":49,"v":40},{"yr":"2021","w":50,"v":38.5},{"yr":"2021","w":51,"v":39},{"yr":"2021","w":52,"v":42},
{"yr":"2022","w":1,"v":40},{"yr":"2022","w":2,"v":40},{"yr":"2022","w":3,"v":38},{"yr":"2022","w":4,"v":33},{"yr":"2022","w":5,"v":28},{"yr":"2022","w":6,"v":20},{"yr":"2022","w":7,"v":12},{"yr":"2022","w":8,"v":10},{"yr":"2022","w":9,"v":12},{"yr":"2022","w":10,"v":15},{"yr":"2022","w":11,"v":22},{"yr":"2022","w":12,"v":28},{"yr":"2022","w":13,"v":32},{"yr":"2022","w":14,"v":32},{"yr":"2022","w":15,"v":33},{"yr":"2022","w":16,"v":37},{"yr":"2022","w":17,"v":38},{"yr":"2022","w":18,"v":39},{"yr":"2022","w":19,"v":41},{"yr":"2022","w":20,"v":42},{"yr":"2022","w":21,"v":42},{"yr":"2022","w":22,"v":42},{"yr":"2022","w":23,"v":43},{"yr":"2022","w":24,"v":43},{"yr":"2022","w":25,"v":42},{"yr":"2022","w":26,"v":45},{"yr":"2022","w":27,"v":46},{"yr":"2022","w":28,"v":47},{"yr":"2022","w":29,"v":48},{"yr":"2022","w":30,"v":48},{"yr":"2022","w":31,"v":48},{"yr":"2022","w":32,"v":47},{"yr":"2022","w":33,"v":49},{"yr":"2022","w":34,"v":50},{"yr":"2022","w":35,"v":42},{"yr":"2022","w":36,"v":45},{"yr":"2022","w":37,"v":49},{"yr":"2022","w":38,"v":50},{"yr":"2022","w":39,"v":50},{"yr":"2022","w":40,"v":51},{"yr":"2022","w":41,"v":52},{"yr":"2022","w":42,"v":51},{"yr":"2022","w":43,"v":49},{"yr":"2022","w":44,"v":47},{"yr":"2022","w":45,"v":47},{"yr":"2022","w":46,"v":46},{"yr":"2022","w":47,"v":45},{"yr":"2022","w":48,"v":44},{"yr":"2022","w":49,"v":43},{"yr":"2022","w":50,"v":40},{"yr":"2022","w":51,"v":37},{"yr":"2022","w":52,"v":34},
{"yr":"2023","w":1,"v":28},{"yr":"2023","w":2,"v":27},{"yr":"2023","w":3,"v":25},{"yr":"2023","w":4,"v":22},{"yr":"2023","w":5,"v":18},{"yr":"2023","w":6,"v":15},{"yr":"2023","w":7,"v":13},{"yr":"2023","w":8,"v":21},{"yr":"2023","w":9,"v":28},{"yr":"2023","w":10,"v":33},{"yr":"2023","w":11,"v":36},{"yr":"2023","w":12,"v":38},{"yr":"2023","w":13,"v":40},{"yr":"2023","w":14,"v":43},{"yr":"2023","w":15,"v":45},{"yr":"2023","w":16,"v":47},{"yr":"2023","w":17,"v":48},{"yr":"2023","w":18,"v":48},{"yr":"2023","w":19,"v":47.5},{"yr":"2023","w":20,"v":47.5},{"yr":"2023","w":21,"v":48},{"yr":"2023","w":22,"v":48},{"yr":"2023","w":23,"v":47.5},{"yr":"2023","w":24,"v":47},{"yr":"2023","w":25,"v":46.5},{"yr":"2023","w":26,"v":46},{"yr":"2023","w":27,"v":46},{"yr":"2023","w":28,"v":47},{"yr":"2023","w":29,"v":47},{"yr":"2023","w":30,"v":46},{"yr":"2023","w":31,"v":44},{"yr":"2023","w":32,"v":43},{"yr":"2023","w":33,"v":40},{"yr":"2023","w":34,"v":45},{"yr":"2023","w":35,"v":47},{"yr":"2023","w":36,"v":48},{"yr":"2023","w":37,"v":49},{"yr":"2023","w":38,"v":50},{"yr":"2023","w":39,"v":50},{"yr":"2023","w":40,"v":49},{"yr":"2023","w":41,"v":49},{"yr":"2023","w":42,"v":48},{"yr":"2023","w":43,"v":47},{"yr":"2023","w":44,"v":46},{"yr":"2023","w":45,"v":45},{"yr":"2023","w":46,"v":44},{"yr":"2023","w":47,"v":42},{"yr":"2023","w":48,"v":40},{"yr":"2023","w":49,"v":38},{"yr":"2023","w":50,"v":36},{"yr":"2023","w":51,"v":34},{"yr":"2023","w":52,"v":32},
{"yr":"2024","w":1,"v":30},{"yr":"2024","w":2,"v":28},{"yr":"2024","w":3,"v":26},{"yr":"2024","w":4,"v":22},{"yr":"2024","w":5,"v":18},{"yr":"2024","w":6,"v":16},{"yr":"2024","w":7,"v":14},{"yr":"2024","w":8,"v":20},{"yr":"2024","w":9,"v":25},{"yr":"2024","w":10,"v":30},{"yr":"2024","w":11,"v":35},{"yr":"2024","w":12,"v":38},{"yr":"2024","w":13,"v":41},{"yr":"2024","w":14,"v":43},{"yr":"2024","w":15,"v":44},{"yr":"2024","w":16,"v":45},{"yr":"2024","w":17,"v":45},{"yr":"2024","w":18,"v":44},{"yr":"2024","w":19,"v":43},{"yr":"2024","w":20,"v":42},{"yr":"2024","w":21,"v":42},{"yr":"2024","w":22,"v":41},{"yr":"2024","w":23,"v":40},{"yr":"2024","w":24,"v":41},{"yr":"2024","w":25,"v":42},{"yr":"2024","w":26,"v":42},{"yr":"2024","w":27,"v":41},{"yr":"2024","w":28,"v":40},{"yr":"2024","w":29,"v":40},{"yr":"2024","w":30,"v":41},{"yr":"2024","w":31,"v":43},{"yr":"2024","w":32,"v":44},{"yr":"2024","w":33,"v":45},{"yr":"2024","w":34,"v":45},{"yr":"2024","w":35,"v":44},{"yr":"2024","w":36,"v":43},{"yr":"2024","w":37,"v":44},{"yr":"2024","w":38,"v":45},{"yr":"2024","w":39,"v":44},{"yr":"2024","w":40,"v":43},{"yr":"2024","w":41,"v":43},{"yr":"2024","w":42,"v":43},{"yr":"2024","w":43,"v":43},{"yr":"2024","w":44,"v":42},{"yr":"2024","w":45,"v":41},{"yr":"2024","w":46,"v":41},{"yr":"2024","w":47,"v":40},{"yr":"2024","w":48,"v":38},{"yr":"2024","w":49,"v":36},{"yr":"2024","w":50,"v":34},{"yr":"2024","w":51,"v":32},{"yr":"2024","w":52,"v":31},
{"yr":"2025","w":1,"v":27},{"yr":"2025","w":2,"v":24},{"yr":"2025","w":3,"v":20},{"yr":"2025","w":4,"v":16},{"yr":"2025","w":5,"v":12},{"yr":"2025","w":6,"v":8},{"yr":"2025","w":7,"v":4},{"yr":"2025","w":8,"v":8},{"yr":"2025","w":9,"v":18},{"yr":"2025","w":10,"v":25},{"yr":"2025","w":11,"v":30},{"yr":"2025","w":12,"v":34},{"yr":"2025","w":13,"v":38},{"yr":"2025","w":14,"v":41},{"yr":"2025","w":15,"v":43},{"yr":"2025","w":16,"v":44},{"yr":"2025","w":17,"v":44},{"yr":"2025","w":18,"v":43},{"yr":"2025","w":19,"v":42},{"yr":"2025","w":20,"v":42},{"yr":"2025","w":21,"v":41},{"yr":"2025","w":22,"v":41},{"yr":"2025","w":23,"v":40},{"yr":"2025","w":24,"v":40},{"yr":"2025","w":25,"v":39},{"yr":"2025","w":26,"v":39},{"yr":"2025","w":27,"v":38},{"yr":"2025","w":28,"v":37},{"yr":"2025","w":29,"v":36},{"yr":"2025","w":30,"v":39},{"yr":"2025","w":31,"v":37},{"yr":"2025","w":32,"v":35},{"yr":"2025","w":33,"v":37},{"yr":"2025","w":34,"v":38},{"yr":"2025","w":35,"v":37},{"yr":"2025","w":36,"v":36},{"yr":"2025","w":37,"v":38},{"yr":"2025","w":38,"v":39},{"yr":"2025","w":39,"v":38},{"yr":"2025","w":40,"v":38},{"yr":"2025","w":41,"v":38},{"yr":"2025","w":42,"v":38},{"yr":"2025","w":43,"v":38},{"yr":"2025","w":44,"v":37},{"yr":"2025","w":45,"v":36},{"yr":"2025","w":46,"v":35},{"yr":"2025","w":47,"v":33},{"yr":"2025","w":48,"v":32},{"yr":"2025","w":49,"v":31},{"yr":"2025","w":50,"v":31},{"yr":"2025","w":51,"v":30},{"yr":"2025","w":52,"v":30},
{"yr":"2026","w":1,"v":25.5},{"yr":"2026","w":2,"v":27.9},{"yr":"2026","w":3,"v":27.6},{"yr":"2026","w":5,"v":24.0},{"yr":"2026","w":6,"v":21.0},{"yr":"2026","w":8,"v":21.8}
 ]},
 "encoding":{
  "x":{"field":"w","type":"quantitative","scale":{"domain":[0,52.4],"nice":false,"zero":false},"axis":{"values":[1,11,21,31,41,51],"labelExpr":"'W' + datum.value","title":null,"grid":false,"tickSize":3,"labelPadding":4,"labelFont":"Liberation Serif","labelFontSize":10.5,"labelColor":"#222","domainColor":"#666","tickColor":"#666"}},
  "y":{"field":"v","type":"quantitative","scale":{"domain":[0,90],"nice":false,"zero":false},"axis":{"values":[0,30,60,90],"title":"%","titleAngle":0,"titleX":12,"titleY":0,"titleAlign":"center","titleBaseline":"middle","titleFont":"Liberation Serif","titleFontSize":10.5,"titleFontWeight":"normal","titleColor":"#222","grid":false,"tickSize":3,"labelPadding":5,"labelFont":"Liberation Serif","labelFontSize":10.5,"labelColor":"#222","domainColor":"#666","tickColor":"#666"}}
 },
 "layer":[
  {"mark":{"type":"line","interpolate":"monotone","strokeWidth":2},
   "encoding":{"color":{"field":"yr","type":"nominal","scale":{"domain":["2021","2022","2023","2024","2025","2026"],"range":["#1f6fb5","#b5121b","#ee7d32","#f8c9a9","#bfbfbf","#3fb6e6"]},"legend":null}}},
  {"transform":[{"filter":"datum.yr == '2026'"}],"mark":{"type":"point","filled":true,"fill":"white","stroke":"#3fb6e6","strokeWidth":1.3,"size":22,"opacity":1}}
 ]
},

{"width":73,"height":1,"data":{"values":[]},"mark":"text"},
{"width":225,"height":276,"resolve":{"scale":{"x":"independent","y":"independent"}},"layer":[
 {"data":{"values":[{"s":"2021","c":0,"r":0},{"s":"2022","c":1,"r":0},{"s":"2023","c":2,"r":0},{"s":"2024","c":0,"r":1},{"s":"2025","c":1,"r":1},{"s":"2026","c":2,"r":1}]},
  "encoding":{"x":{"field":"c","type":"quantitative","scale":{"domain":[-1.0,3.5],"nice":false,"zero":false},"axis":null},"y":{"field":"r","type":"quantitative","scale":{"domain":[-1.6946,14.8323],"reverse":true,"nice":false,"zero":false},"axis":null}},
  "layer":[
   {"mark":{"type":"tick","orient":"horizontal","size":20,"thickness":2.5,"opacity":1},"encoding":{"color":{"field":"s","type":"nominal","scale":{"domain":["2021","2022","2023","2024","2025","2026"],"range":["#1f6fb5","#b5121b","#ee7d32","#f8c9a9","#bfbfbf","#3fb6e6"]},"legend":null}}},
   {"transform":[{"filter":"datum.s == '2026'"}],"mark":{"type":"point","filled":true,"fill":"white","stroke":"#3fb6e6","strokeWidth":1.3,"size":24,"opacity":1}},
   {"mark":{"type":"text","align":"left","baseline":"middle","dx":13,"font":"Liberation Serif","fontSize":11,"color":"#222"},"encoding":{"text":{"field":"s"}}}
  ]},
 {"data":{"values":[{}]},"mark":{"type":"rule","stroke":"#000","strokeWidth":0.8},"encoding":{"x":{"datum":0,"type":"quantitative","scale":{"domain":[33,258],"nice":false,"zero":false},"axis":null},"x2":{"datum":283},"y":{"datum":0,"type":"quantitative","scale":{"domain":[-63.3,212.7],"reverse":true,"nice":false,"zero":false},"axis":null}}},
 {"data":{"values":[{"t":"数据来源：Wind、开源证券研究所"}]},"mark":{"type":"text","align":"left","baseline":"middle","font":"Liberation Serif, Noto Sans CJK SC","fontSize":10,"color":"#333"},"encoding":{"x":{"datum":0,"type":"quantitative","scale":{"domain":[31,256],"nice":false,"zero":false},"axis":null},"y":{"datum":0,"type":"quantitative","scale":{"domain":[-71.7,204.3],"reverse":true,"nice":false,"zero":false},"axis":null},"text":{"field":"t"}}},
 {"data":{"values":[{"s":"2021","c":0,"r":0},{"s":"2022","c":1,"r":0},{"s":"2023","c":2,"r":0},{"s":"2024","c":0,"r":1},{"s":"2025","c":1,"r":1},{"s":"2026","c":2,"r":1}]},
  "encoding":{"x":{"field":"c","type":"quantitative","scale":{"domain":[-6.99,-2.49],"nice":false,"zero":false},"axis":null},"y":{"field":"r","type":"quantitative","scale":{"domain":[-1.6946,14.8323],"reverse":true,"nice":false,"zero":false},"axis":null}},
  "layer":[
   {"mark":{"type":"tick","orient":"horizontal","size":21,"thickness":2.5,"opacity":1},"encoding":{"color":{"field":"s","type":"nominal","scale":{"domain":["2021","2022","2023","2024","2025","2026"],"range":["#1f6fb5","#b5121b","#ee7d32","#f8c9a9","#bfbfbf","#3fb6e6"]},"legend":null}}},
   {"transform":[{"filter":"datum.s == '2026'"}],"mark":{"type":"point","filled":true,"fill":"white","stroke":"#3fb6e6","strokeWidth":1.3,"size":24,"opacity":1}},
   {"mark":{"type":"text","align":"left","baseline":"middle","dx":14,"font":"Liberation Serif","fontSize":11,"color":"#222"},"encoding":{"text":{"field":"s"}}}
  ]},
 {"data":{"values":[{}]},"mark":{"type":"rule","stroke":"#000","strokeWidth":0.8},"encoding":{"x":{"datum":0,"type":"quantitative","scale":{"domain":[-265,-40],"nice":false,"zero":false},"axis":null},"x2":{"datum":284},"y":{"datum":0,"type":"quantitative","scale":{"domain":[-63.3,212.7],"reverse":true,"nice":false,"zero":false},"axis":null}}},
 {"data":{"values":[{"t":"数据来源：Wind、开源证券研究所"}]},"mark":{"type":"text","align":"left","baseline":"middle","font":"Liberation Serif, Noto Sans CJK SC","fontSize":10,"color":"#333"},"encoding":{"x":{"datum":0,"type":"quantitative","scale":{"domain":[-268.5,-43.5],"nice":false,"zero":false},"axis":null},"y":{"datum":0,"type":"quantitative","scale":{"domain":[-71.7,204.3],"reverse":true,"nice":false,"zero":false},"axis":null},"text":{"field":"t"}}},
 {"encoding":{"y":{"field":"line","type":"quantitative","scale":{"domain":[-7.2254,8.7283],"reverse":true,"nice":false,"zero":false},"axis":null}},"layer":[
   {"data":{"values":[{"line":1,"ind":0,"t":"个百分点，但服务业新订单仍趋弱。分行业来看，春节提振居民出行消费，住宿、"},{"line":2,"ind":0,"t":"餐饮、文化体育娱乐等行业位于高景气区间，资本市场服务、房地产等行业低位运"},{"line":3,"ind":0,"t":"行，市场活跃度偏低。从我们跟踪的领先指标“商品房库销比”来看，房价下行压"},{"line":4,"ind":0,"t":"力或趋增。"}]},"mark":{"type":"text","align":"left","baseline":"middle","font":"Liberation Serif, Noto Sans CJK SC","fontSize":11.5,"color":"#111"},"encoding":{"x":{"field":"ind","type":"quantitative","scale":{"domain":[-10.7826,8.7826],"nice":false,"zero":false},"axis":null},"text":{"field":"t"}}},
   {"data":{"values":[{"line":0,"ind":2,"t":"(2)春节效应带动服务业小幅回升："}]},"mark":{"type":"text","align":"left","baseline":"middle","font":"Liberation Serif, Noto Sans CJK SC","fontSize":11.5,"fontWeight":"bold","color":"#111"},"encoding":{"x":{"field":"ind","type":"quantitative","scale":{"domain":[-10.7826,8.7826],"nice":false,"zero":false},"axis":null},"text":{"field":"t"}}},
   {"data":{"values":[{"line":0,"t":"2 月服务业 PMI 为 49.7%、较前值改善了 0.2"}]},"mark":{"type":"text","align":"right","baseline":"middle","font":"Liberation Serif, Noto Sans CJK SC","fontSize":11.5,"color":"#111"},"encoding":{"x":{"datum":36.7826,"type":"quantitative","scale":{"domain":[-10.7826,8.7826],"nice":false,"zero":false},"axis":null},"text":{"field":"t"}}},
   {"data":{"values":[{"line":1,"from":15,"to":20},{"line":3,"from":10,"to":34.9},{"line":4,"from":0,"to":4}]},"mark":{"type":"rule","stroke":"#111","strokeWidth":0.8,"yOffset":7.5},"encoding":{"x":{"field":"from","type":"quantitative","scale":{"domain":[-10.7826,8.7826],"nice":false,"zero":false},"axis":null},"x2":{"field":"to"}}}
 ]},
 {"data":{"values":[{}]},"mark":{"type":"rule","stroke":"#000","strokeWidth":1.3},"encoding":{"x":{"datum":0,"type":"quantitative","scale":{"domain":[33,258],"nice":false,"zero":false},"axis":null},"x2":{"datum":582},"y":{"datum":0,"type":"quantitative","scale":{"domain":[-213.3,62.7],"reverse":true,"nice":false,"zero":false},"axis":null}}},
 {"data":{"values":[{"t":"请务必参阅正文后面的信息披露和法律声明"}]},"mark":{"type":"text","align":"left","baseline":"middle","font":"Liberation Serif, Noto Sans CJK SC","fontSize":10.5,"color":"#222"},"encoding":{"x":{"datum":0,"type":"quantitative","scale":{"domain":[31,256],"nice":false,"zero":false},"axis":null},"y":{"datum":0,"type":"quantitative","scale":{"domain":[-222.7,53.3],"reverse":true,"nice":false,"zero":false},"axis":null},"text":{"field":"t"}}},
 {"data":{"values":[{"t":"5 / 9"}]},"mark":{"type":"text","align":"right","baseline":"middle","font":"Liberation Serif","fontSize":11,"color":"#222"},"encoding":{"x":{"datum":0,"type":"quantitative","scale":{"domain":[-547,-322],"nice":false,"zero":false},"axis":null},"y":{"datum":0,"type":"quantitative","scale":{"domain":[-222.7,53.3],"reverse":true,"nice":false,"zero":false},"axis":null},"text":{"field":"t"}}}
]},
{"width":73,"height":1,"data":{"values":[]},"mark":"text"},
{"width":1,"height":1,"data":{"values":[]},"mark":"text"}
]
}
